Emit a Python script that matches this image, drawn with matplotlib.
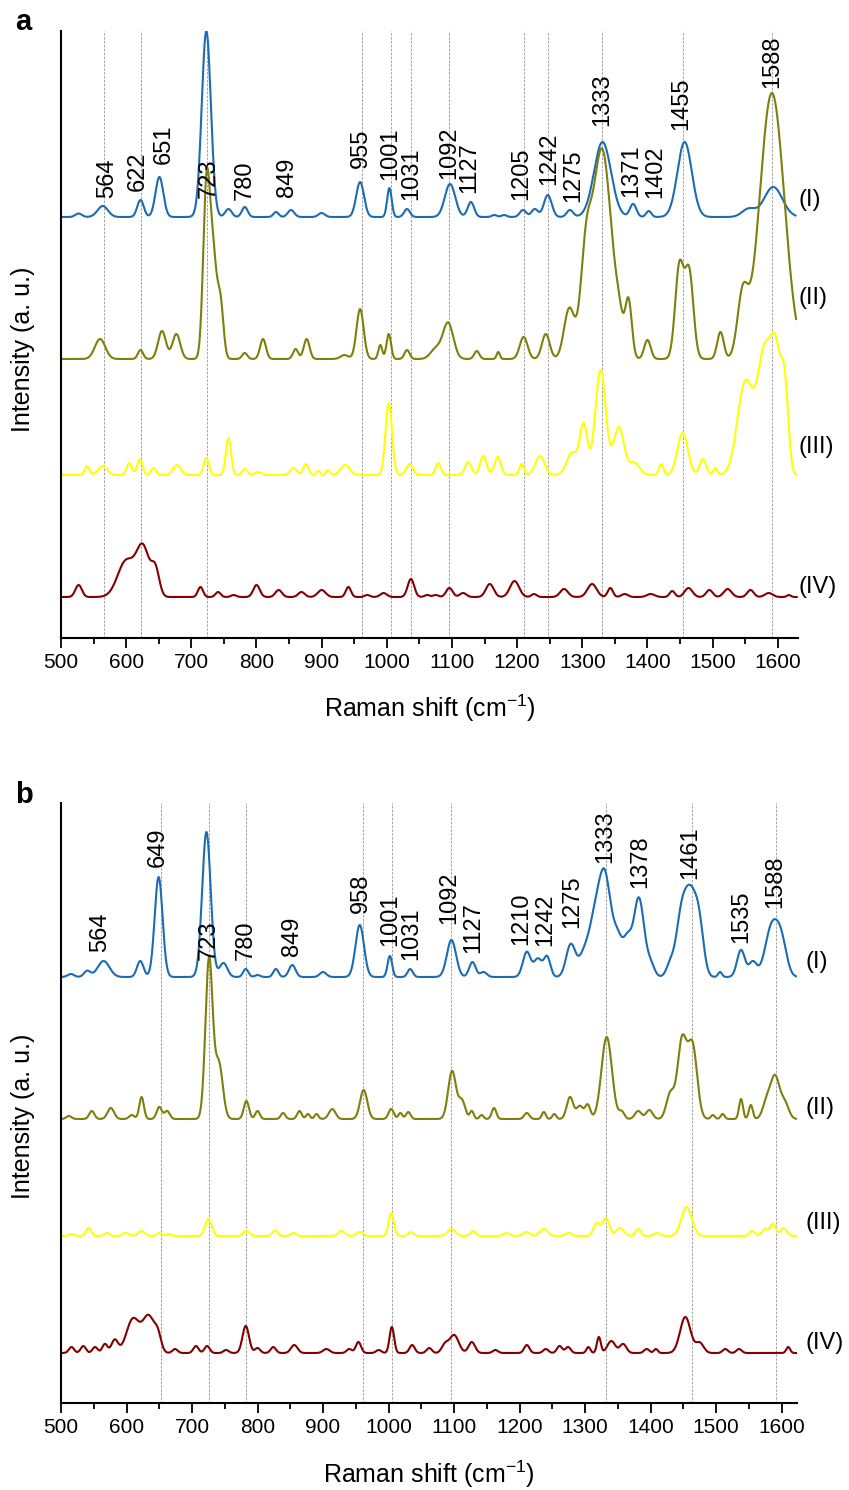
"""Stacked Raman spectra of four samples, panels a and b."""
import matplotlib.pyplot as plt
import numpy as np

plt.rcParams["font.family"] = ["Liberation Sans", "DejaVu Sans"]
plt.rcParams["mathtext.fontset"] = "custom"
plt.rcParams["mathtext.rm"] = "Liberation Sans"
plt.rcParams["mathtext.it"] = "Liberation Sans:italic"

COLORS = ["#1b6cb3", "#7f7f0c", "#ffff00", "#820000"]
SERIES_NAMES = ["(I)", "(II)", "(III)", "(IV)"]

# ---- panel a: band list per spectrum (position cm-1, height a.u., width cm-1)
A_I = [(527, 3.5, 5), (564, 11, 8), (622, 17, 5), (651, 40, 6), (723, 186, 7),
       (757, 8, 5), (782, 10, 4.5), (830, 5, 4), (853, 7, 5), (900, 4, 5),
       (959, 35, 6), (1004, 29, 3.5), (1031, 8, 4.5), (1097, 33, 8),
       (1129, 15, 5), (1165, 2, 4), (1180, 2, 4), (1209, 7, 5), (1227, 8, 5),
       (1247, 22, 6), (1281, 7, 5), (1331, 75, 13), (1378, 13, 5),
       (1402, 6, 4), (1457, 75, 11), (1555, 8, 10), (1593, 30, 14)]
A_II = [(560, 20, 8), (622, 9, 4), (655, 28, 6), (677, 25, 6), (723, 160, 5),
        (733, 105, 6), (745, 50, 4.5), (782, 6, 4), (810, 20, 4.5), (860, 10, 4),
        (877, 20, 4.5), (935, 4, 6), (959, 50, 5.5), (990, 14, 3),
        (1003, 25, 3.5), (1031, 9, 4), (1075, 10, 8), (1094, 36, 8),
        (1138, 8, 4), (1171, 7, 2.5), (1210, 22, 6), (1244, 25, 6),
        (1280, 50, 8), (1305, 80, 8), (1330, 210, 15), (1357, 20, 6),
        (1371, 55, 5), (1400, 19, 5), (1449, 92, 6.5), (1464, 86, 6.5),
        (1512, 27, 5), (1546, 58, 8), (1591, 266, 19)]
A_III = [(540, 9, 3.5), (564, 9, 7), (605, 12, 4), (621, 16, 4), (642, 7, 4),
         (678, 10, 6), (723, 17, 4), (757, 37, 4), (782, 6, 4), (803, 3, 5),
         (857, 7, 5), (876, 11, 4), (895, 4, 3), (910, 5, 3), (936, 10, 7),
         (1003, 72, 5), (1035, 11, 5), (1079, 12, 4), (1125, 13, 5),
         (1148, 19, 5), (1170, 18, 5), (1207, 11, 3.5), (1235, 19, 7),
         (1284, 22, 8), (1302, 50, 6), (1328, 105, 8), (1356, 48, 8),
         (1380, 12, 8), (1421, 11, 3.5), (1454, 42, 8), (1485, 16, 5),
         (1504, 7, 3), (1550, 92, 12), (1580, 120, 11), (1598, 100, 8),
         (1611, 75, 5.5)]
A_IV = [(527, 12, 5), (600, 36, 13), (626, 48, 10), (645, 25, 6), (714, 10, 4),
        (741, 5, 4), (765, 2, 4), (800, 12, 5), (834, 7, 5), (869, 5, 5),
        (900, 7, 6), (941, 10, 4), (970, 2, 4), (995, 4, 5), (1037, 18, 5),
        (1062, 2, 4), (1075, 2, 4), (1096, 9, 5), (1117, 4, 5), (1158, 13, 6),
        (1196, 16, 7), (1226, 3, 4), (1272, 8, 6), (1315, 13, 7), (1343, 9, 4),
        (1365, 3, 5), (1405, 3, 6), (1438, 6, 4), (1463, 9, 6), (1495, 7, 5),
        (1523, 8, 6), (1558, 7, 5), (1586, 4, 6), (1617, 2, 3)]
A_OFFSETS = [421, 279, 163, 41]
A_END = [1627, 1628, 1628, 1629]
A_MARKS = [565.5, 623, 724.6, 962.5, 1006, 1037, 1096, 1210, 1247, 1330, 1455, 1591]
A_LABELS = ["564", "622", "651", "723", "780", "849", "955", "1001", "1031",
            "1092", "1127", "1205", "1242", "1275", "1333", "1371", "1402",
            "1455", "1588"]
A_LABEL_X = [570, 618, 657, 726, 782, 847, 960, 1006, 1038, 1096, 1127, 1206,
             1250, 1286, 1331, 1375, 1412, 1452, 1591]
A_LABEL_Y = [440, 447, 474, 440, 438, 441, 470, 458, 438, 459, 445, 438, 453,
             436, 512, 441, 440, 508, 550]
A_NAME_Y = [438, 340, 191, 51]

# ---- panel b
B_I = [(515, 3, 5), (540, 6, 5), (565, 16, 9), (621, 16, 5), (649, 100, 6),
       (722, 145, 6.5), (748, 14, 6), (782, 8, 4), (800, 2, 4), (828, 8, 4),
       (853, 12, 5), (900, 5, 5), (956, 52, 6.5), (1002, 21, 3.5), (1033, 8, 4),
       (1096, 37, 7), (1128, 15, 5), (1145, 5, 5), (1211, 25, 6), (1228, 18, 6),
       (1242, 20, 5), (1278, 32, 7), (1300, 25, 9), (1315, 45, 8),
       (1330, 98, 9), (1350, 38, 8), (1365, 30, 6), (1382, 79, 8),
       (1400, 12, 6), (1430, 12, 6), (1447, 60, 8), (1461, 70, 8),
       (1474, 50, 7), (1506, 5, 3), (1538, 27, 6), (1556, 15, 6),
       (1585, 50, 10), (1600, 30, 8)]
B_II = [(512, 3, 4), (547, 8, 4), (576, 11, 5), (608, 4, 4), (623, 22, 3.5),
        (650, 12, 4), (662, 8, 4), (726, 160, 5.5), (741, 55, 6), (783, 18, 4),
        (800, 8, 3.5), (839, 6, 3.5), (864, 8, 3.5), (877, 5, 3), (890, 5, 3),
        (914, 10, 5), (962, 29, 5.5), (1004, 10, 4), (1018, 6, 3),
        (1030, 7, 3.5), (1097, 48, 6), (1112, 18, 5), (1127, 8, 3),
        (1142, 4, 3), (1161, 11, 3.5), (1211, 6, 4), (1237, 7, 3), (1253, 5, 3),
        (1277, 22, 5), (1292, 13, 5), (1304, 14, 4), (1333, 82, 8),
        (1356, 7, 4), (1381, 8, 5), (1398, 9, 5), (1430, 25, 6),
        (1448, 78, 7), (1464, 72, 7), (1495, 4, 3), (1510, 5, 3),
        (1538, 20, 3), (1553, 14, 3), (1577, 16, 6), (1590, 42, 7),
        (1605, 15, 6)]
B_III = [(516, 2, 4), (542, 8, 4), (570, 3, 4), (599, 3, 5), (623, 5, 5),
         (650, 3, 4), (665, 2, 4), (725, 17, 5), (783, 5, 5), (827, 6, 4),
         (855, 3, 4), (928, 5, 5), (956, 4, 5), (1004, 23, 4), (1034, 4, 4),
         (1096, 7, 6), (1129, 5, 4), (1180, 3, 5), (1210, 4, 5), (1237, 7, 6),
         (1275, 3, 5), (1318, 13, 5), (1332, 18, 5), (1353, 8, 6), (1381, 7, 4),
         (1410, 3, 5), (1455, 29, 8), (1555, 5, 4), (1575, 7, 5), (1587, 12, 4),
         (1603, 8, 5)]
B_IV = [(516, 6, 4), (534, 7, 4), (552, 6, 4), (567, 9, 4), (582, 13, 5),
        (610, 34, 10), (634, 36, 9), (648, 14, 5), (674, 4, 4), (706, 7, 4),
        (723, 7, 4), (752, 3, 4), (782, 27, 5), (800, 5, 4), (824, 6, 4),
        (856, 8, 5), (905, 4, 5), (940, 4, 4), (954, 11, 4), (985, 3, 4),
        (1005, 26, 3.5), (1036, 8, 4), (1062, 5, 4), (1086, 8, 5),
        (1100, 18, 7), (1127, 11, 5), (1163, 3, 4), (1211, 8, 4), (1240, 4, 4),
        (1261, 7, 4), (1274, 6, 4), (1305, 6, 3), (1321, 16, 3), (1340, 12, 6),
        (1358, 9, 5), (1394, 4, 4), (1408, 4, 3), (1453, 36, 8), (1475, 10, 6),
        (1514, 4, 4), (1535, 4, 4), (1610, 6, 3)]
B_OFFSETS = [426, 284, 167, 50]
B_END = [1623, 1622, 1622, 1622]
B_MARKS = [652, 726, 782, 961.5, 1005, 1096, 1332, 1463, 1592]
B_LABELS = ["564", "649", "723", "780", "849", "958", "1001", "1031", "1092",
            "1127", "1210", "1242", "1275", "1333", "1378", "1461", "1535",
            "1588"]
B_LABEL_X = [559, 647, 726, 782, 853, 958, 1002, 1035, 1093, 1130, 1203, 1239,
             1280, 1331, 1384, 1460, 1539, 1590]
B_LABEL_Y = [451, 536, 443, 443, 447, 490, 457, 443, 479, 450, 458, 457, 475,
             540, 515, 524, 460, 495]
B_NAME_Y = [441, 295, 180, 60]


def spectrum(x, bands):
    """Sum of Gaussian bands."""
    y = np.zeros_like(x)
    for pos, amp, wid in bands:
        y += amp * np.exp(-0.5 * ((x - pos) / wid) ** 2)
    return y


def draw_panel(ax, spectra, offsets, ends, marks, labels, label_x, label_y,
               name_y, name_x, xmax, ymax):
    for xm in marks:
        ax.axvline(xm, color="#a0a0a0", lw=0.7, ls=(0, (2.5, 1.5)), zorder=1)
    for bands, off, end, color in zip(spectra, offsets, ends, COLORS):
        x = np.linspace(500, end, 2400)
        ax.plot(x, off + spectrum(x, bands), color=color, lw=1.5, zorder=2)
    for text, xl, yl in zip(labels, label_x, label_y):
        ax.text(xl, yl, text, rotation=90, ha="center", va="bottom",
                fontsize=17, zorder=3)
    for name, yn in zip(SERIES_NAMES, name_y):
        ax.text(name_x, yn, name, ha="left", va="center", fontsize=17)

    ax.set_xlim(500, xmax)
    ax.set_ylim(0, ymax)
    ax.set_xticks(np.arange(500, 1601, 100))
    ax.set_xticks(np.arange(550, 1601, 100), minor=True)
    ax.tick_params(axis="x", which="major", direction="out", length=7,
                   width=1.3, labelsize=15, pad=4)
    ax.tick_params(axis="x", which="minor", direction="out", length=4.5,
                   width=1.3)
    ax.set_yticks([])
    for side in ("top", "right"):
        ax.spines[side].set_visible(False)
    for side in ("left", "bottom"):
        ax.spines[side].set_linewidth(1.5)
    ax.set_xlabel("Raman shift (cm$^{-1}$)", fontsize=18, va="baseline")
    ax.set_ylabel("Intensity (a. u.)", fontsize=18)


fig = plt.figure(figsize=(8.49, 14.90), dpi=100)
ax_a = fig.add_axes([61 / 849, 1 - 638 / 1490, 737 / 849, 607 / 1490])
ax_b = fig.add_axes([61 / 849, 1 - 1403 / 1490, 735.7 / 849, 600 / 1490])

draw_panel(ax_a, [A_I, A_II, A_III, A_IV], A_OFFSETS, A_END, A_MARKS,
           A_LABELS, A_LABEL_X, A_LABEL_Y, A_NAME_Y, 1632, 1631, 607)
draw_panel(ax_b, [B_I, B_II, B_III, B_IV], B_OFFSETS, B_END, B_MARKS,
           B_LABELS, B_LABEL_X, B_LABEL_Y, B_NAME_Y, 1636, 1623, 600)

ax_a.xaxis.set_label_coords(0.5, -0.130)
ax_a.yaxis.set_label_coords(-0.035, 0.476)
ax_b.xaxis.set_label_coords(0.5, -0.133)
ax_b.yaxis.set_label_coords(-0.035, 0.4775)

fig.text(15 / 849, 1 - 30 / 1490, "a", fontsize=21, fontweight="bold",
         va="baseline")
fig.text(15 / 849, 1 - 803 / 1490, "b", fontsize=21, fontweight="bold",
         va="baseline")

fig.savefig("out.png", dpi=100)
